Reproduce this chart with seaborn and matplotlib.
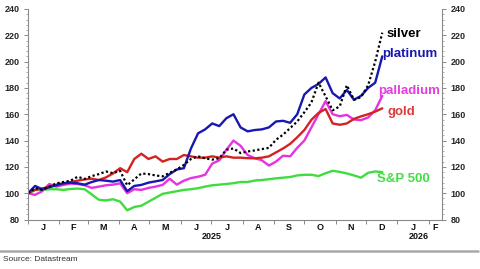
import numpy as np
import pandas as pd
import matplotlib
matplotlib.use("Agg")
import matplotlib.pyplot as plt
import matplotlib.dates as mdates
from matplotlib.ticker import MultipleLocator, FixedLocator
import seaborn as sns
from matplotlib import font_manager as fm

# ---------------- data (index, 1 Jan 2025 = 100), weekly ----------------
dates = pd.date_range("2025-01-01", periods=51, freq="7D")

gold = [100, 102.5, 103.5, 105, 106.5, 107.5, 108.5, 109.5, 110.5, 111,
        110, 112, 115, 119, 116, 126, 130, 126, 128, 124,
        126, 126, 129, 128, 127, 127, 128, 127, 128, 127,
        127, 126.6, 126.5, 127, 128, 131, 134, 137.5, 142.5, 148,
        155.8, 161, 164, 153, 152, 153, 156.5, 158.4, 160, 162, 164.5]

platinum = [100, 105.5, 103, 104.5, 106, 107.5, 108, 107.5, 106.5, 108.5,
            110, 109.5, 108.8, 110, 101.5, 105.5, 106.3, 108, 109, 110,
            114.5, 118, 119, 134, 145.5, 148.5, 153, 151, 157, 160,
            150, 147, 148, 148.5, 150, 154.5, 155, 153.5, 160, 175,
            180, 183, 188, 176, 172, 178.5, 171, 174, 180, 184, 204]

silver = [100, 103.8, 102.5, 105, 107.5, 108.5, 109.5, 112.5, 110.8, 113,
          114.5, 116.5, 115.2, 117, 106, 110.5, 115, 114.5, 113.5, 112.8,
          115.5, 118, 121.5, 126, 128, 126.5, 125.5, 126.6, 133, 134,
          130.5, 131.7, 132.5, 133.5, 134.5, 140.6, 144.5, 149.5, 154.5, 161.5,
          169, 184, 173.6, 163, 166, 182, 171, 173, 182, 200, 222]

palladium = [100, 98.7, 101.5, 107, 105, 106.3, 107.3, 107, 106, 104,
             105, 106, 106.5, 107.5, 100, 103, 102.5, 104, 105, 106.3,
             111, 106.5, 109.5, 111.5, 112.5, 114, 122.5, 125, 133, 140,
             136, 129, 126.6, 125, 121, 124, 128.5, 128, 134.5, 140,
             150, 160, 170, 160, 158.5, 159.5, 156, 155.5, 157.5, 163, 174]

sp500 = [100, 102.5, 102.5, 103, 103, 102.5, 103.2, 103.5, 103, 99,
         95, 94.5, 95.4, 93.6, 87, 89.5, 90.5, 93.5, 96.5, 99.5,
         100.5, 101.5, 102.5, 103, 103.8, 105, 106, 106.5, 107, 107.6,
         108.5, 108.5, 109.6, 110, 110.6, 111.3, 111.8, 112.3, 113.5, 114,
         114, 113, 115.2, 117, 116.2, 115, 113.5, 111.8, 115.5, 116.5, 116]

series_names = ["S&P 500", "palladium", "gold", "platinum", "silver"]
series_values = [sp500, palladium, gold, platinum, silver]
month_letters = ["J", "F", "M", "A", "M", "J", "J", "A", "S", "O", "N", "D", "J", "F"]
year_labels = ["2025", "2026"]
y_ticks = [80, 100, 120, 140, 160, 180, 200, 220, 240]
source_text = "Source: Datastream"

# ---------------- styling ----------------
colors = {"S&P 500": "#3fdc3f", "palladium": "#e632e0", "gold": "#d42222",
          "platinum": "#1818b0", "silver": "#000000"}
label_colors = {"S&P 500": "#44dd44", "palladium": "#e63ce0", "gold": "#dc3c3c",
                "platinum": "#1818b0", "silver": "#000000"}

sns.set_style("white")
plt.rcParams["font.family"] = ["Liberation Sans", "DejaVu Sans"]

avail = {f.name for f in fm.fontManager.ttflist}
narrow = "Liberation Sans Narrow" if "Liberation Sans Narrow" in avail else "Liberation Sans"
source_size = 7 if narrow == "Liberation Sans Narrow" else 6

W, H = 481, 269
fig = plt.figure(figsize=(W / 100, H / 100), dpi=100)
left, right, top, bottom = 28, 442, 9, 219.5
ax = fig.add_axes([left / W, 1 - bottom / H, (right - left) / W, (bottom - top) / H])

df = pd.DataFrame({"date": np.tile(dates, len(series_names)),
                   "value": np.concatenate([np.asarray(v, float) for v in series_values]),
                   "series": np.repeat(series_names, len(dates))})

for name in series_names:
    sub = df[df["series"] == name]
    if name == "silver":
        sns.lineplot(data=sub, x="date", y="value", ax=ax, color=colors[name],
                     lw=1.6, linestyle=(0, (1, 1.1)), legend=False)
    else:
        sns.lineplot(data=sub, x="date", y="value", ax=ax, color=colors[name],
                     lw=1.7, legend=False)

x0 = pd.Timestamp("2025-01-01")
x1 = pd.Timestamp("2026-02-14")
ax.set_xlim(x0, x1)
ax.set_ylim(80, 240)
ax.set_xlabel("")
ax.set_ylabel("")

ax.spines["top"].set_visible(False)
for s in ["left", "right", "bottom"]:
    ax.spines[s].set_color("#8a8a8a")
    ax.spines[s].set_linewidth(0.8)
    ax.spines[s].set_visible(True)

# y axis: left and right labels
ax.yaxis.set_major_locator(FixedLocator(y_ticks))
ax.yaxis.set_minor_locator(MultipleLocator(4))
ax.tick_params(axis="y", which="major", left=True, right=True, labelleft=True,
               labelright=True, length=3, width=0.7, color="#8a8a8a",
               labelsize=6.5, pad=3)
ax.tick_params(axis="y", which="minor", left=True, right=True, length=1.5,
               width=0.5, color="#8a8a8a")
for lab in ax.get_yticklabels():
    lab.set_fontweight("bold")

# x axis: month ticks at boundaries, letters centered in months
month_starts = pd.date_range("2025-01-01", "2026-02-01", freq="MS")
ax.xaxis.set_major_locator(FixedLocator(mdates.date2num(month_starts)))
ax.xaxis.set_major_formatter(plt.NullFormatter())
ax.tick_params(axis="x", which="major", bottom=True, length=3, width=0.7,
               color="#8a8a8a", direction="out")
centers = []
for i, ms in enumerate(month_starts):
    end = month_starts[i + 1] if i + 1 < len(month_starts) else x1
    centers.append(ms + (end - ms) / 2)
for c, letter in zip(centers, month_letters):
    ax.text(mdates.date2num(c), -0.015, letter, transform=ax.get_xaxis_transform(),
            ha="center", va="top", fontsize=6.5, fontweight="bold", color="#111111")
ax.text(mdates.date2num(pd.Timestamp("2025-07-01")), -0.058, year_labels[0],
        transform=ax.get_xaxis_transform(), ha="center", va="top",
        fontsize=6.5, fontweight="bold", color="#111111")
ax.text(mdates.date2num(pd.Timestamp("2026-01-22")), -0.058, year_labels[1],
        transform=ax.get_xaxis_transform(), ha="center", va="top",
        fontsize=6.5, fontweight="bold", color="#111111")

# series labels near line ends
label_pos = {"silver": ("2025-12-21", 221), "platinum": ("2025-12-17", 205.5),
             "palladium": ("2025-12-13", 178), "gold": ("2025-12-22", 162),
             "S&P 500": ("2025-12-12", 110.5)}
for name, (d, v) in label_pos.items():
    ax.text(mdates.date2num(pd.Timestamp(d)), v, name, ha="left", va="center",
            fontsize=9.5, fontweight="bold", color=label_colors[name])

# footer
fig.add_artist(plt.Line2D([0, 478 / W], [1 - 251 / H, 1 - 251 / H],
                          color="#a8a8a8", lw=1.8, transform=fig.transFigure))
fig.text(3 / W, 1 - 259.5 / H, source_text, ha="left", va="center",
         fontsize=source_size, family=narrow, color="#333333")

fig.savefig("out.png", dpi=100)
